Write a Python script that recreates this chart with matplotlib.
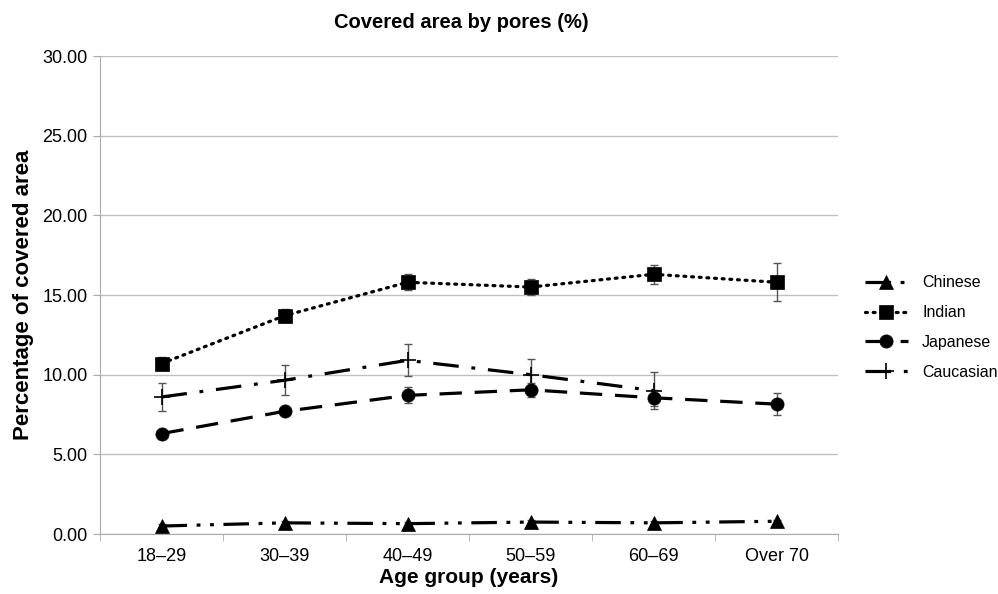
import numpy as np
import matplotlib.pyplot as plt

plt.rcParams["font.family"] = ["Liberation Sans", "DejaVu Sans"]

age_groups = ["18\u201329", "30\u201339", "40\u201349", "50\u201359", "60\u201369", "Over 70"]

chinese = [0.5, 0.7, 0.65, 0.75, 0.7, 0.8]
chinese_err = [0.1, 0.1, 0.1, 0.1, 0.1, 0.1]
indian = [10.7, 13.7, 15.8, 15.5, 16.3, 15.8]
indian_err = [0.4, 0.4, 0.5, 0.5, 0.6, 1.2]
japanese = [6.3, 7.7, 8.7, 9.05, 8.55, 8.15]
japanese_err = [0.2, 0.25, 0.5, 0.45, 0.5, 0.7]
caucasian = [8.6, 9.65, 10.9, 10.0, 9.0]
caucasian_err = [0.9, 0.95, 1.0, 1.0, 1.15]

fig = plt.figure(figsize=(9.98, 5.94), dpi=100)
ax = fig.add_axes([0.1002, 0.101, 0.7395, 0.8047])

x = np.arange(len(age_groups))
ebar = dict(ecolor="#555555", elinewidth=1, capsize=3, capthick=1)

series = [
    ("Chinese", chinese, chinese_err, "^", (0, (8, 3, 1.2, 3, 1.2, 3))),
    ("Indian", indian, indian_err, "s", (0, (0.6, 1.8))),
    ("Japanese", japanese, japanese_err, "o", (0, (7, 4))),
    ("Caucasian", caucasian, caucasian_err, "+", (0, (8, 4, 1.2, 4))),
]

handles = []
for name, vals, err, mk, ls in series:
    xs = x[:len(vals)]
    ax.errorbar(xs, vals, yerr=err, fmt="none", zorder=2, **ebar)
    ms = 12 if mk == "+" else 9.5
    (h,) = ax.plot(xs, vals, color="black", lw=2.3, linestyle=ls,
                   marker=mk, markersize=ms, markeredgewidth=1.2 if mk == "+" else 0.5,
                   dash_capstyle="round" if name == "Indian" else "butt",
                   label=name, zorder=3)
    handles.append(h)

ax.set_xlim(-0.5, len(age_groups) - 0.5)
ax.set_ylim(0, 30)
ax.set_yticks(np.arange(0, 30.1, 5))
ax.set_yticklabels([f"{v:.2f}" for v in np.arange(0, 30.1, 5)])
ax.set_xticks(x)
ax.set_xticklabels(age_groups)
ax.set_xticks(np.arange(-0.5, len(age_groups), 1), minor=True)
ax.tick_params(axis="x", which="major", length=0, pad=10, labelsize=13)
ax.tick_params(axis="x", which="minor", length=5, color="#aaaaaa")
ax.tick_params(axis="y", length=5, color="#aaaaaa", labelsize=13, pad=4)

ax.yaxis.grid(True, color="#c0c0c0", lw=1)
ax.set_axisbelow(True)
for s in ["top", "right"]:
    ax.spines[s].set_visible(False)
for s in ["left", "bottom"]:
    ax.spines[s].set_color("#aaaaaa")

ax.set_title("Covered area by pores (%)", fontsize=14.5, fontweight="bold", pad=20, x=0.49)
ax.set_xlabel("Age group (years)", fontsize=15, fontweight="bold", labelpad=2)
ax.set_ylabel("Percentage of covered area", fontsize=16, fontweight="bold", labelpad=6)

fig.legend(handles=handles, loc="upper left", bbox_to_anchor=(0.86, 0.547),
           frameon=False, fontsize=11.5, handlelength=2.7, labelspacing=0.92,
           handletextpad=0.9, borderaxespad=0.0)

fig.savefig("out.png", dpi=100)
